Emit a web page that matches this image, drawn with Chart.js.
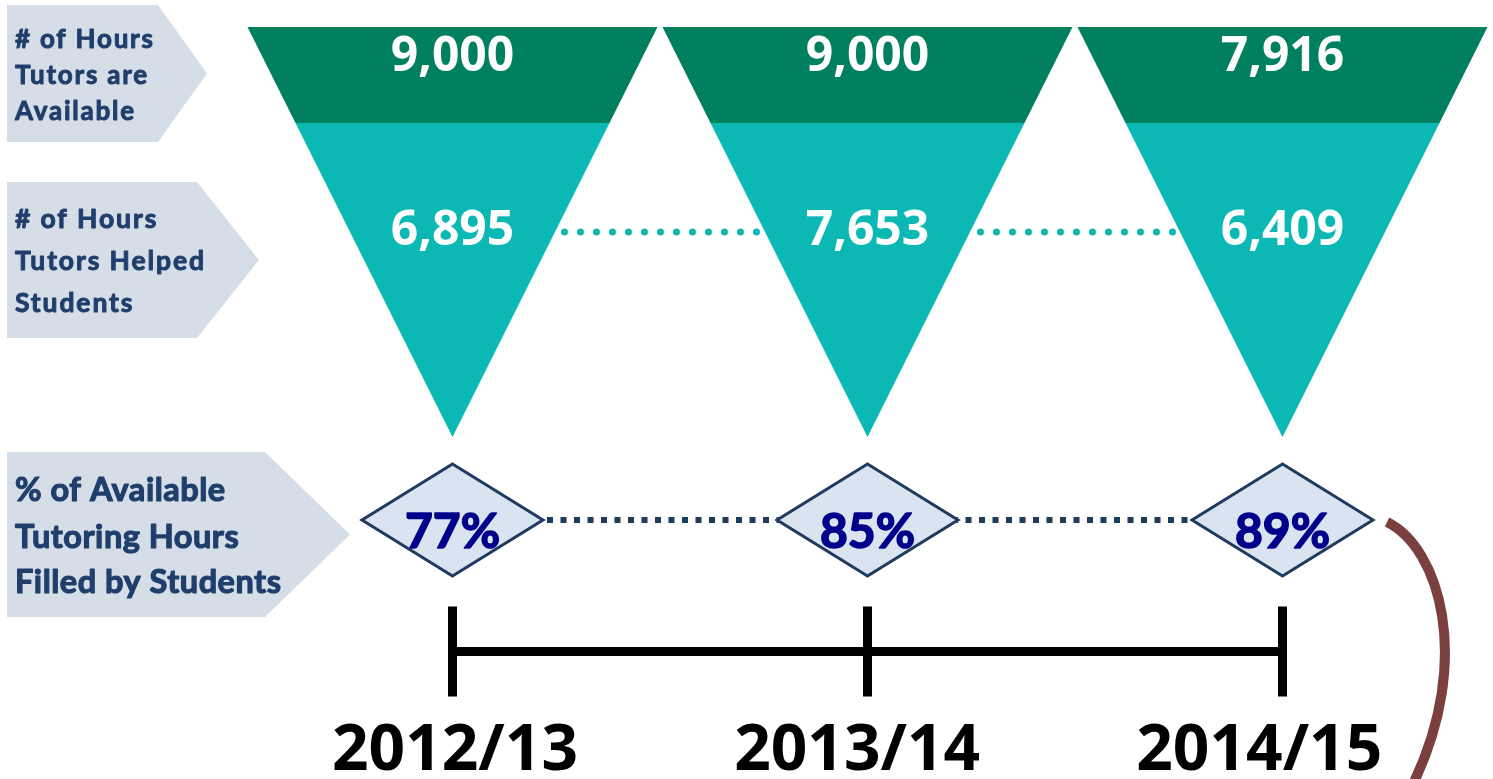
<!DOCTYPE html>
<html><head><meta charset="utf-8">
<script src="https://cdn.jsdelivr.net/npm/chart.js@4"></script>
<style>html,body{margin:0;padding:0;background:#fff;overflow:hidden}canvas{display:block}</style>
</head><body>
<canvas id="c" width="1493" height="779"></canvas>
<script>
// ---- data ----
const years = ['2012/13', '2013/14', '2014/15'];
const hoursAvailable = [9000, 9000, 7916];
const hoursHelped = [6895, 7653, 6409];
const pctFilled = [77, 85, 89];
const rowLabels = [
  ['# of Hours', 'Tutors are', 'Available'],
  ['# of Hours', 'Tutors Helped', 'Students'],
  ['% of Available', 'Tutoring Hours', 'Filled by Students']
];

// ---- styling / layout ----
const C = {
  dark: '#00805F', teal: '#0BB8B3', box: '#D5DDE6', boxText: '#1F3E6C',
  dFill: '#DAE4F1', dStroke: '#1F3B5E', pct: '#00008A', brown: '#7B3F40'
};
const ROW = { helped: 232, pct: 520, timeline: 651.5 };
const fmt = v => v.toLocaleString('en-US');

function makeDiamond(w, h) {
  const p = 5, c = document.createElement('canvas');
  c.width = w + 2 * p; c.height = h + 2 * p;
  const g = c.getContext('2d');
  g.beginPath();
  g.moveTo(c.width / 2, p); g.lineTo(c.width - p, c.height / 2);
  g.lineTo(c.width / 2, c.height - p); g.lineTo(p, c.height / 2); g.closePath();
  g.fillStyle = C.dFill; g.fill();
  g.lineWidth = 3; g.strokeStyle = C.dStroke; g.lineJoin = 'miter'; g.stroke();
  return c;
}
const diamond = makeDiamond(181, 112);
const idx = years.map((_, i) => i);

function heavyText(ctx, t, x, y, color, w) {
  ctx.fillStyle = color; ctx.strokeStyle = color; ctx.lineWidth = w; ctx.lineJoin = 'round';
  ctx.strokeText(t, x, y); ctx.fillText(t, x, y);
}

const infographic = {
  id: 'infographic',
  beforeDatasetsDraw(chart) {
    const ctx = chart.ctx;
    const boxes = [
      { top: 5, bot: 142, right: 158, tip: 207, size: 26, base: [48, 84, 120], target: 138 },
      { top: 182, bot: 338, right: 197, tip: 259, size: 26.5, base: [228, 270, 312], target: 189 },
      { top: 452, bot: 617, right: 265, tip: 350, size: 32.5, base: [501, 548, 593], target: 266 }
    ];
    boxes.forEach((b, k) => {
      ctx.save();
      ctx.beginPath();
      ctx.moveTo(7, b.top); ctx.lineTo(b.right, b.top);
      ctx.lineTo(b.tip, (b.top + b.bot) / 2); ctx.lineTo(b.right, b.bot);
      ctx.lineTo(7, b.bot); ctx.closePath();
      ctx.fillStyle = C.box; ctx.fill();
      ctx.font = 'bold ' + b.size + 'px Lato';
      ctx.textAlign = 'left'; ctx.textBaseline = 'alphabetic';
      let widest = rowLabels[k].reduce((m, s) => ctx.measureText(s).width > ctx.measureText(m).width ? s : m, '');
      const w = ctx.measureText(widest).width;
      const ls = (b.target - w) / Math.max(1, widest.length - 1);
      ctx.letterSpacing = ls.toFixed(2) + 'px';
      rowLabels[k].forEach((t, j) => heavyText(ctx, t, 15, b.base[j], C.boxText, b.size / 28));
      ctx.restore();
    });
  },
  afterDatasetsDraw(chart) {
    const ctx = chart.ctx, xs = chart.scales.x, ys = chart.scales.y;
    const unit = xs.getPixelForValue(1) - xs.getPixelForValue(0);
    const half = unit * 0.494;
    const top = ys.getPixelForValue(27), band = ys.getPixelForValue(123), apex = ys.getPixelForValue(437);
    const hb = half * (apex - band) / (apex - top);
    ctx.save();
    idx.forEach(i => {
      const cx = xs.getPixelForValue(i);
      ctx.beginPath();
      ctx.moveTo(cx - half, top); ctx.lineTo(cx + half, top);
      ctx.lineTo(cx + hb, band); ctx.lineTo(cx - hb, band); ctx.closePath();
      ctx.fillStyle = C.dark; ctx.fill();
      ctx.beginPath();
      ctx.moveTo(cx - hb, band); ctx.lineTo(cx + hb, band); ctx.lineTo(cx, apex); ctx.closePath();
      ctx.fillStyle = C.teal; ctx.fill();
      ctx.fillStyle = '#fff';
      ctx.font = 'bold 48px "Open Sans"';
      ctx.textAlign = 'center'; ctx.textBaseline = 'alphabetic';
      ctx.fillText(fmt(hoursAvailable[i]), cx, ys.getPixelForValue(71));
      ctx.fillText(fmt(hoursHelped[i]), cx, ys.getPixelForValue(245));
      ctx.font = 'bold 48px Lato';
      heavyText(ctx, pctFilled[i] + '%', cx, ys.getPixelForValue(548), C.pct, 1.6);
      // year label (slightly tighter spacing than the tick marks, as in the original)
      ctx.fillStyle = '#000';
      ctx.font = 'bold 64px "Open Sans"';
      ctx.fillText(years[i], xs.getPixelForValue(i * 0.969 + 0.006), ys.getPixelForValue(770));
    });
    // brown bracket arc
    ctx.beginPath();
    ctx.moveTo(1387, 522);
    ctx.bezierCurveTo(1440, 548, 1472, 660, 1414, 782);
    ctx.lineWidth = 10; ctx.strokeStyle = C.brown; ctx.lineCap = 'butt';
    ctx.stroke();
    ctx.restore();
  }
};

function build() {
  new Chart(document.getElementById('c'), {
    type: 'line',
    data: {
      datasets: [
        {
          label: '% of Available Tutoring Hours Filled by Students',
          data: idx.map(i => ({ x: i, y: ROW.pct, v: pctFilled[i] })),
          borderColor: C.dStroke, borderWidth: 6, borderDash: [6, 7.5], borderCapStyle: 'butt',
          pointStyle: diamond, pointRadius: 10, pointHoverRadius: 10, order: 1
        },
        {
          label: '# of Hours Tutors Helped Students',
          data: idx.map(i => ({ x: i, y: ROW.helped, v: hoursHelped[i] })),
          borderColor: C.teal, borderWidth: 7, borderDash: [0, 16], borderCapStyle: 'round',
          pointRadius: 0, order: 2
        },
        {
          label: 'Years',
          data: idx.map(i => ({ x: i, y: ROW.timeline })),
          borderColor: '#000', borderWidth: 9,
          pointStyle: 'line', rotation: 90, pointRadius: 45, pointHoverRadius: 45,
          pointBorderWidth: 9, pointBorderColor: '#000', pointBackgroundColor: '#000', order: 3
        }
      ]
    },
    options: {
      responsive: false, animation: false, events: [],
      layout: { padding: 0, autoPadding: false },
      plugins: { legend: { display: false }, tooltip: { enabled: false } },
      scales: {
        x: { type: 'linear', display: false, min: -452.5 / 415, max: (1493 - 452.5) / 415 },
        y: { type: 'linear', display: false, reverse: true, min: 0, max: 779 }
      },
      datasets: { line: { clip: false, tension: 0 } }
    },
    plugins: [infographic]
  });
}
const fl = document.fonts ? Promise.all([
  document.fonts.load('bold 48px "Open Sans"'),
  document.fonts.load('bold 30px Lato')
]).catch(() => null) : Promise.resolve();
fl.then(build, build);
</script>
</body></html>
